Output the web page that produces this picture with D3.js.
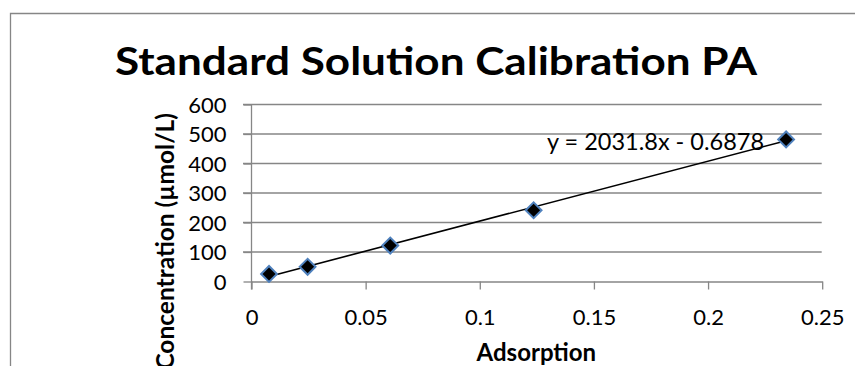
<!DOCTYPE html>
<html>
<head>
<meta charset="utf-8">
<script src="https://cdn.jsdelivr.net/npm/d3@7/dist/d3.min.js"></script>
<style>
  html, body { margin: 0; padding: 0; background: #fff; }
  svg { display: block; }
  text { font-family: Lato, "Open Sans", "Liberation Sans", sans-serif; fill: #000; }
</style>
</head>
<body>
<svg id="chart" width="855" height="366"></svg>
<script>
// Calibration standards: measured absorbance vs. known concentration
const absorption    = [0.0079, 0.0248, 0.061, 0.1238, 0.2344];
const concentration = [24, 48, 120, 240, 480];

// Linear trendline reported on the chart
const slope = 2031.8;
const intercept = -0.6878;
const equationLabel = "y = 2031.8x - 0.6878";

const xTicks = [0, 0.05, 0.1, 0.15, 0.2, 0.25];
const xTickLabels = ["0", "0.05", "0.1", "0.15", "0.2", "0.25"];
const yTicks = [0, 100, 200, 300, 400, 500, 600];
const yTickLabels = ["0", "100", "200", "300", "400", "500", "600"];

const titleText = "Standard Solution Calibration PA";
const xTitle = "Adsorption";
const yTitle = "Concentration (\u00b5mol/L)";

const svg = d3.select("#chart");
const gray = "#868686";

// Outer chart frame (continues past the right and bottom edges)
svg.append("path")
  .attr("d", "M10.5,366 V13.5 H855")
  .attr("fill", "none")
  .attr("stroke", gray)
  .attr("stroke-width", 1.3);

// Plot area
const plot = { left: 251, right: 821.7, top: 104, bottom: 281 };

const x = d3.scaleLinear().domain([0, 0.25]).range([plot.left, plot.right]);
const y = d3.scaleLinear().domain([0, 600]).range([plot.bottom, plot.top]);

// Horizontal gridlines
svg.append("g")
  .selectAll("line")
  .data(yTicks.slice(1))
  .join("line")
  .attr("x1", plot.left - 8)
  .attr("x2", plot.right)
  .attr("y1", d => y(d) + 0.5)
  .attr("y2", d => y(d) + 0.5)
  .attr("stroke", gray)
  .attr("stroke-width", 1.3);

// Y axis (ticks outside, labels right-aligned)
const yAxis = d3.axisLeft(y)
  .tickValues(yTicks)
  .tickFormat((d, i) => yTickLabels[i])
  .tickSize(8)
  .tickPadding(17);
const gy = svg.append("g")
  .attr("transform", `translate(${plot.left + 0.5},0.5)`)
  .call(yAxis);
gy.select(".domain").attr("d", `M0,${plot.top - 0.5}V${plot.bottom + 8}`);
gy.selectAll("line, path").attr("stroke", gray).attr("stroke-width", 1.3);
gy.selectAll("text")
  .attr("font-size", 22)
  .attr("font-family", "Lato, 'Open Sans', sans-serif")
  .attr("fill", "#000")
  .attr("dy", "0.36em");

// X axis (ticks hanging below)
const xAxis = d3.axisBottom(x)
  .tickValues(xTicks)
  .tickFormat((d, i) => xTickLabels[i])
  .tickSize(8)
  .tickSizeOuter(0)
  .tickPadding(0);
const gx = svg.append("g")
  .attr("transform", `translate(0.5,${plot.bottom + 0.5})`)
  .call(xAxis);
gx.selectAll("line, path").attr("stroke", gray).attr("stroke-width", 1.3);
gx.selectAll("text")
  .attr("font-size", 22)
  .attr("font-family", "Lato, 'Open Sans', sans-serif")
  .attr("fill", "#000")
  .attr("y", 43)
  .attr("dy", 0);

// Trendline over the range of the standards
const xMin = d3.min(absorption), xMax = d3.max(absorption);
svg.append("line")
  .attr("x1", x(xMin)).attr("y1", y(slope * xMin + intercept))
  .attr("x2", x(xMax)).attr("y2", y(slope * xMax + intercept))
  .attr("stroke", "#000")
  .attr("stroke-width", 1.6);

// Diamond markers
const diamond = d3.symbol().type(d3.symbolSquare).size(125);
svg.append("g")
  .selectAll("path")
  .data(absorption.map((a, i) => [a, concentration[i]]))
  .join("path")
  .attr("d", diamond)
  .attr("transform", d => `translate(${x(d[0])},${y(d[1])}) rotate(45)`)
  .attr("fill", "#000")
  .attr("stroke", "#4f81bd")
  .attr("stroke-width", 2);

// Trendline equation
svg.append("text")
  .attr("x", 547)
  .attr("y", 150)
  .attr("font-size", 23.5)
  .text(equationLabel);

// Chart title
svg.append("text")
  .attr("x", 115)
  .attr("y", 75)
  .attr("font-size", 37.5)
  .attr("font-weight", 700)
  .attr("textLength", 642)
  .attr("lengthAdjust", "spacingAndGlyphs")
  .text(titleText);

// Axis titles
svg.append("text")
  .attr("x", (plot.left + plot.right) / 2)
  .attr("y", 361)
  .attr("text-anchor", "middle")
  .attr("font-size", 24)
  .attr("font-weight", 700)
  .text(xTitle);

svg.append("text")
  .attr("transform", "translate(174,113) rotate(-90)")
  .attr("text-anchor", "end")
  .attr("font-size", 24.5)
  .attr("font-weight", 700)
  .text(yTitle);
</script>
</body>
</html>
